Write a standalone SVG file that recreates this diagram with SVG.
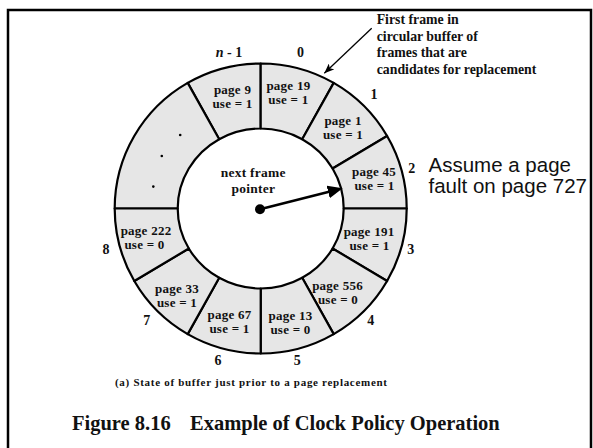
<svg xmlns="http://www.w3.org/2000/svg" width="593" height="448" viewBox="0 0 593 448">
<style>
.seg { fill: #e6e6e6; stroke: #000; stroke-width: 2.2; stroke-linejoin: round; }
.lbl { font-family: "Liberation Serif", "Times New Roman", serif; font-weight: bold; font-size: 13px; letter-spacing: 0.25px; text-anchor: middle; fill: #111; }
.num { font-family: "Liberation Serif", "Times New Roman", serif; font-weight: bold; font-size: 14px; text-anchor: middle; fill: #111; }
.ann { font-family: "Liberation Serif", "Times New Roman", serif; font-weight: bold; font-size: 13.8px; fill: #111; }
.sans { font-family: "Liberation Sans", Arial, sans-serif; font-size: 20.5px; fill: #111; }
.cap { font-family: "Liberation Serif", "Times New Roman", serif; font-weight: bold; font-size: 20.5px; fill: #111; }
.sub { font-family: "Liberation Serif", "Times New Roman", serif; font-weight: bold; font-size: 11px; fill: #111; }
</style>
<defs>
<marker id="bigHead" markerUnits="userSpaceOnUse" markerWidth="16" markerHeight="13" refX="1" refY="6.5" orient="auto">
<path d="M0,0 L15,6.5 L0,13 z" fill="#000"/>
</marker>
<marker id="smallHead" markerUnits="userSpaceOnUse" markerWidth="11" markerHeight="8" refX="10" refY="4" orient="auto">
<path d="M0,0 L10,4 L0,8 L2.5,4 z" fill="#000"/>
</marker>
</defs>
<rect width="593" height="448" fill="#fff"/>
<rect x="8" y="10" width="583" height="460" fill="none" stroke="#000" stroke-width="2.5"/>

<g id="frame-n1">
<path class="seg" d="M260.7,63.5 A146,145 0 0 0 187.7,82.9 L219.2,139.2 A83,80 0 0 1 260.7,128.5 Z"/>
<text class="lbl" x="232.5" y="94">page 9</text>
<text class="lbl" x="232.5" y="108">use = 1</text>
</g>
<g id="frame-dots">
<path class="seg" d="M187.7,82.9 A146,145 0 0 0 114.7,208.5 L177.7,208.5 A83,80 0 0 1 219.2,139.2 Z"/>
<circle cx="180.2" cy="135" r="1.3" fill="#000"/>
<circle cx="161.8" cy="156" r="1.3" fill="#000"/>
<circle cx="153.3" cy="186.6" r="1.3" fill="#000"/>
</g>
<g id="frame-0">
<path class="seg" d="M333.7,82.9 A146,145 0 0 0 260.7,63.5 L260.7,128.5 A83,80 0 0 1 302.2,139.2 Z"/>
<text class="lbl" x="288.4" y="90">page 19</text>
<text class="lbl" x="288.4" y="104">use = 1</text>
</g>
<g id="frame-1">
<path class="seg" d="M387.1,136 A146,145 0 0 0 333.7,82.9 L302.2,139.2 A83,80 0 0 1 332.6,168.5 Z"/>
<text class="lbl" x="343" y="124.5">page 1</text>
<text class="lbl" x="343" y="138.5">use = 1</text>
</g>
<g id="frame-2">
<path class="seg" d="M406.7,208.5 A146,145 0 0 0 387.1,136 L332.6,168.5 A83,80 0 0 1 343.7,208.5 Z"/>
<text class="lbl" x="374" y="176.3">page 45</text>
<text class="lbl" x="374.5" y="190.3">use = 1</text>
</g>
<g id="frame-3">
<path class="seg" d="M387.1,281 A146,145 0 0 0 406.7,208.5 L343.7,208.5 A83,80 0 0 1 332.6,248.5 Z"/>
<text class="lbl" x="369" y="236">page 191</text>
<text class="lbl" x="369.5" y="250">use = 1</text>
</g>
<g id="frame-4">
<path class="seg" d="M333.7,334.1 A146,145 0 0 0 387.1,281 L332.6,248.5 A83,80 0 0 1 302.2,277.8 Z"/>
<text class="lbl" x="337.5" y="290">page 556</text>
<text class="lbl" x="338" y="304">use = 0</text>
</g>
<g id="frame-5">
<path class="seg" d="M260.7,353.5 A146,145 0 0 0 333.7,334.1 L302.2,277.8 A83,80 0 0 1 260.7,288.5 Z"/>
<text class="lbl" x="290.5" y="319.7">page 13</text>
<text class="lbl" x="290.5" y="333.7">use = 0</text>
</g>
<g id="frame-6">
<path class="seg" d="M187.7,334.1 A146,145 0 0 0 260.7,353.5 L260.7,288.5 A83,80 0 0 1 219.2,277.8 Z"/>
<text class="lbl" x="229.5" y="319.2">page 67</text>
<text class="lbl" x="229.5" y="333.2">use = 1</text>
</g>
<g id="frame-7">
<path class="seg" d="M134.3,281 A146,145 0 0 0 187.7,334.1 L219.2,277.8 A83,80 0 0 1 188.8,248.5 Z"/>
<text class="lbl" x="177" y="292.8">page 33</text>
<text class="lbl" x="177" y="306.8">use = 1</text>
</g>
<g id="frame-8">
<path class="seg" d="M114.7,208.5 A146,145 0 0 0 134.3,281 L188.8,248.5 A83,80 0 0 1 177.7,208.5 Z"/>
<text class="lbl" x="146" y="235.3">page 222</text>
<text class="lbl" x="144.5" y="249.3">use = 0</text>
</g>

<g id="indices">
<text class="num" x="229" y="57.3"><tspan font-style="italic">n</tspan> - 1</text>
<text class="num" x="300.5" y="57.3">0</text>
<text class="num" x="374" y="99.3">1</text>
<text class="num" x="411.7" y="172.5">2</text>
<text class="num" x="410.7" y="254">3</text>
<text class="num" x="370.7" y="325">4</text>
<text class="num" x="297.3" y="365">5</text>
<text class="num" x="218" y="365">6</text>
<text class="num" x="146.7" y="325">7</text>
<text class="num" x="106" y="254">8</text>
</g>

<g id="pointer">
<text class="lbl" x="253.3" y="176.7" text-anchor="start" style="font-size:13.5px">next frame</text>
<text class="lbl" x="253.3" y="193.3" text-anchor="start" style="font-size:13.5px">pointer</text>
</g>

<g id="annotation">
<text class="ann" x="376.7" y="24">First frame in</text>
<text class="ann" x="376.7" y="40.7">circular buffer of</text>
<text class="ann" x="376.7" y="57.3">frames that are</text>
<text class="ann" x="376.7" y="74">candidates for replacement</text>
</g>

<g id="note">
<text class="sans" x="428.5" y="171.7">Assume a page</text>
<text class="sans" x="428.5" y="193.3">fault on page 727</text>
</g>

<g id="connectors">
<circle cx="260" cy="209.3" r="5" fill="#000"/>
<line x1="260" y1="209.3" x2="329.1" y2="191.7" stroke="#000" stroke-width="2.5" marker-end="url(#bigHead)"/>
<line x1="371.7" y1="28.3" x2="324.3" y2="73.3" stroke="#000" stroke-width="1.3" marker-end="url(#smallHead)"/>
</g>

<g id="captions">
<text class="sub" x="115" y="386" textLength="272" lengthAdjust="spacing">(a) State of buffer just prior to a page replacement</text>
<text class="cap" y="430"><tspan x="72">Figure 8.16</tspan><tspan x="190">Example of Clock Policy Operation</tspan></text>
</g>
</svg>
